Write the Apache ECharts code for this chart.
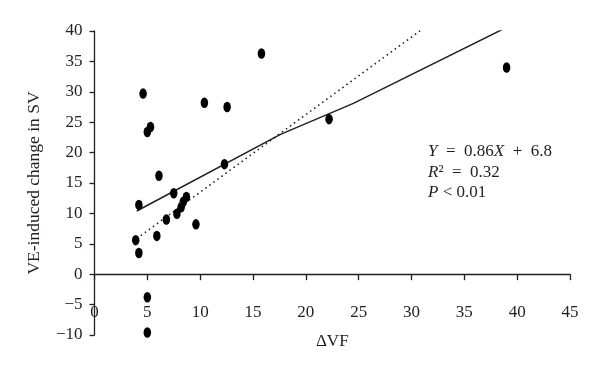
<!DOCTYPE html>
<html>
<head>
<meta charset="utf-8">
<script src="https://cdn.jsdelivr.net/npm/echarts@6/dist/echarts.min.js"></script>
<style>
  html, body { margin: 0; padding: 0; background: #fff; }
  #chart { width: 600px; height: 376px; }
</style>
</head>
<body>
<div id="chart"></div>
<script>
// scatter points: [ΔVF, VE-induced change in SV]
var points = [
    [4.6, 29.7], [15.8, 36.3], [10.4, 28.2], [12.55, 27.5],
    [5.0, 23.4], [5.3, 24.2], [6.1, 16.2], [12.3, 18.1],
    [7.5, 13.3], [8.7, 12.7], [8.4, 11.9], [8.2, 11.0],
    [7.8, 9.95], [6.8, 9.0], [9.6, 8.2], [4.2, 11.4],
    [5.9, 6.3], [3.9, 5.6], [4.2, 3.5], [5.0, -3.8],
    [5.0, -9.6], [22.2, 25.5], [39.0, 34.0]
];
// regression (solid) and dotted reference line
var fitLine = [[4.0, 10.4], [17.6, 23.0], [24.5, 28.1], [39.0, 40.6]];
var dotLine = [[4.0, 5.85], [31.1, 40.4]];

var xTicks = { min: 0, max: 45, interval: 5 };
var yTicks = { min: -10, max: 40, interval: 5 };

var serif = '"Liberation Serif", "DejaVu Serif", serif';
var ink = '#231f20';
var fs = 17;

var option = {
    animation: false,
    backgroundColor: '#fff',
    grid: { left: 94.5, right: 30, top: 31, bottom: 41, containLabel: false, outerBoundsMode: 'none' },
    xAxis: {
        type: 'value',
        min: xTicks.min, max: xTicks.max, interval: xTicks.interval,
        name: 'ΔVF',
        nameLocation: 'middle',
        nameGap: -1.5,
        nameTextStyle: { fontFamily: serif, fontSize: fs, color: ink },
        axisLine: { onZero: true, lineStyle: { color: ink, width: 1.3 } },
        axisTick: { show: true, inside: false, length: 6, lineStyle: { color: ink, width: 1.3 } },
        axisLabel: { margin: -31, fontFamily: serif, fontSize: fs, color: ink },
        splitLine: { show: false }
    },
    yAxis: {
        type: 'value',
        min: yTicks.min, max: yTicks.max, interval: yTicks.interval,
        name: 'VE-induced change in SV',
        nameLocation: 'middle',
        nameGap: 51,
        nameTextStyle: { fontFamily: serif, fontSize: 17.5, color: ink },
        axisLine: { show: true, onZero: false, lineStyle: { color: ink, width: 1.3 } },
        axisTick: { show: true, inside: false, length: 5, lineStyle: { color: ink, width: 1.3 } },
        axisLabel: {
            margin: 12, fontFamily: serif, fontSize: fs, color: ink,
            formatter: function (v) { return v < 0 ? '\u2212' + Math.abs(v) : String(v); }
        },
        splitLine: { show: false }
    },
    graphic: [{
        type: 'text',
        left: 428,
        top: 141.5,
        style: {
            text: '{i|Y}\u2002=\u20020.86{i|X}\u2002+\u20026.8\n{i|R}\u00b2\u2002=\u20020.32\n{i|P} < 0.01',
            font: fs + 'px ' + serif,
            fill: ink,
            lineHeight: 20.5,
            rich: {
                i: { fontStyle: 'italic', fontFamily: serif, fontSize: fs, fill: ink, lineHeight: 20.5 }
            }
        }
    }],
    series: [
        {
            type: 'line',
            data: fitLine,
            symbol: 'none',
            lineStyle: { color: ink, width: 1.5 },
            z: 2
        },
        {
            type: 'line',
            data: dotLine,
            symbol: 'none',
            lineStyle: { color: ink, width: 1.6, type: [1.5, 3.5] },
            z: 2
        },
        {
            type: 'scatter',
            data: points,
            symbol: 'circle',
            symbolSize: [7.5, 10.5],
            itemStyle: { color: '#000', opacity: 1 },
            z: 3
        }
    ]
};

var chart = echarts.init(document.getElementById('chart'));
chart.setOption(option);
</script>
</body>
</html>
